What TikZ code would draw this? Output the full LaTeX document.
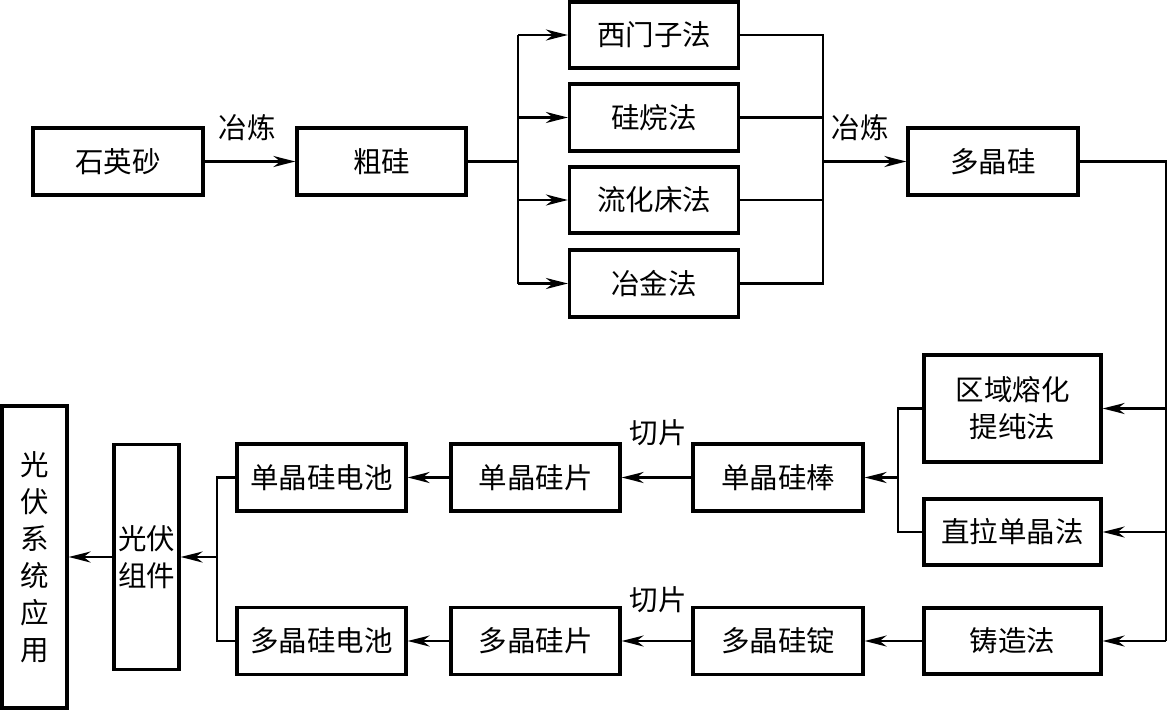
\documentclass[tikz,border=0pt]{standalone}
\usepackage{fontspec}
\newfontfamily\cjk{Noto Sans CJK SC}
\usetikzlibrary{arrows.meta}
\begin{document}
\begin{tikzpicture}[x=1pt,y=-1pt,
  box/.style={draw, line width=3.2pt, inner sep=0pt, align=center, font=\cjk\fontsize{28.5}{37}\selectfont},
  lbl/.style={inner sep=0pt, font=\cjk\fontsize{28.5}{37}\selectfont},
  conn/.style={line width=2.4pt},
  arr/.style={line width=2.4pt, -{Stealth[length=22pt,width=11pt,inset=7pt]}}]
\useasboundingbox (0,0) rectangle (1167,712);
% top row
\node[box, minimum width=170pt, minimum height=67pt] (a) at (118,161.5) {石英砂};
\node[box, minimum width=169pt, minimum height=67pt] (b) at (381.5,161.5) {粗硅};
\node[box, minimum width=169pt, minimum height=66pt] (m1) at (654,35) {西门子法};
\node[box, minimum width=169pt, minimum height=67pt] (m2) at (654,117.5) {硅烷法};
\node[box, minimum width=169pt, minimum height=66pt] (m3) at (654,200) {流化床法};
\node[box, minimum width=169pt, minimum height=67pt] (m4) at (654,283.5) {冶金法};
\node[box, minimum width=170pt, minimum height=67pt] (p) at (993,161.5) {多晶硅};
% right column
\node[box, minimum width=177pt, minimum height=107pt] (z) at (1012.5,408.5) {区域熔化\\提纯法};
\node[box, minimum width=177pt, minimum height=66pt] (c) at (1012.5,532) {直拉单晶法};
\node[box, minimum width=177pt, minimum height=66pt] (d) at (1012.5,641) {铸造法};
% mono row
\node[box, minimum width=170pt, minimum height=67pt] (sr) at (778,477.5) {单晶硅棒};
\node[box, minimum width=169pt, minimum height=67pt] (sw) at (535.5,477.5) {单晶硅片};
\node[box, minimum width=169pt, minimum height=67pt] (sc) at (321.5,477.5) {单晶硅电池};
% poly row
\node[box, minimum width=170pt, minimum height=67pt] (pi) at (778,641) {多晶硅锭};
\node[box, minimum width=169pt, minimum height=67pt] (pw) at (535.5,641) {多晶硅片};
\node[box, minimum width=169pt, minimum height=67pt] (pc) at (321.5,641) {多晶硅电池};
% left
\node[box, minimum width=65pt, minimum height=225pt] (mod) at (146.5,557) {光伏\\组件};
\node[box, minimum width=65pt, minimum height=302pt] (sys) at (34.5,557) {光\\伏\\系\\统\\应\\用};
% labels
\node[lbl] (l1) at (247,128) {冶炼};
\node[lbl] (l2) at (860,128) {冶炼};
\node[lbl] (l3) at (658,433) {切片};
\node[lbl] (l4) at (658,600) {切片};
% connectors top
\coordinate (s1) at (518,161.5);
\draw[arr] (a.east) -- (b.west);
\draw[conn] (b.east) -- (s1);
\draw[conn] (m1.west -| s1) -- (m4.west -| s1);
\foreach \m in {m1,m2,m3,m4} \draw[arr] (\m.west -| s1) -- (\m.west);
\coordinate (j) at (823,161.5);
\draw[conn] (m1.east) -- (m1.east -| j) -- (m4.east -| j) -- (m4.east);
\draw[conn] (m2.east) -- (m2.east -| j);
\draw[conn] (m3.east) -- (m3.east -| j);
\draw[arr] (j) -- (p.west);
% right descent
\coordinate (r) at (1166,161.5);
\draw[conn] (p.east) -- (r) -- (r |- d.east);
\foreach \n in {z,c,d} \draw[arr] (r |- \n.east) -- (\n.east);
% merge to mono rod
\coordinate (k) at (898,477.5);
\draw[conn] (z.west) -- (z.west -| k) -- (c.west -| k) -- (c.west);
\draw[arr] (k) -- (sr.east);
\draw[arr] (sr.west) -- (sw.east);
\draw[arr] (sw.west) -- (sc.east);
\draw[arr] (d.west) -- (pi.east);
\draw[arr] (pi.west) -- (pw.east);
\draw[arr] (pw.west) -- (pc.east);
% merge to module
\coordinate (q) at (217,557);
\draw[conn] (sc.west) -- (sc.west -| q) -- (pc.west -| q) -- (pc.west);
\draw[arr] (q) -- (mod.east);
\draw[arr] (mod.west) -- (sys.east);
\end{tikzpicture}
\end{document}
